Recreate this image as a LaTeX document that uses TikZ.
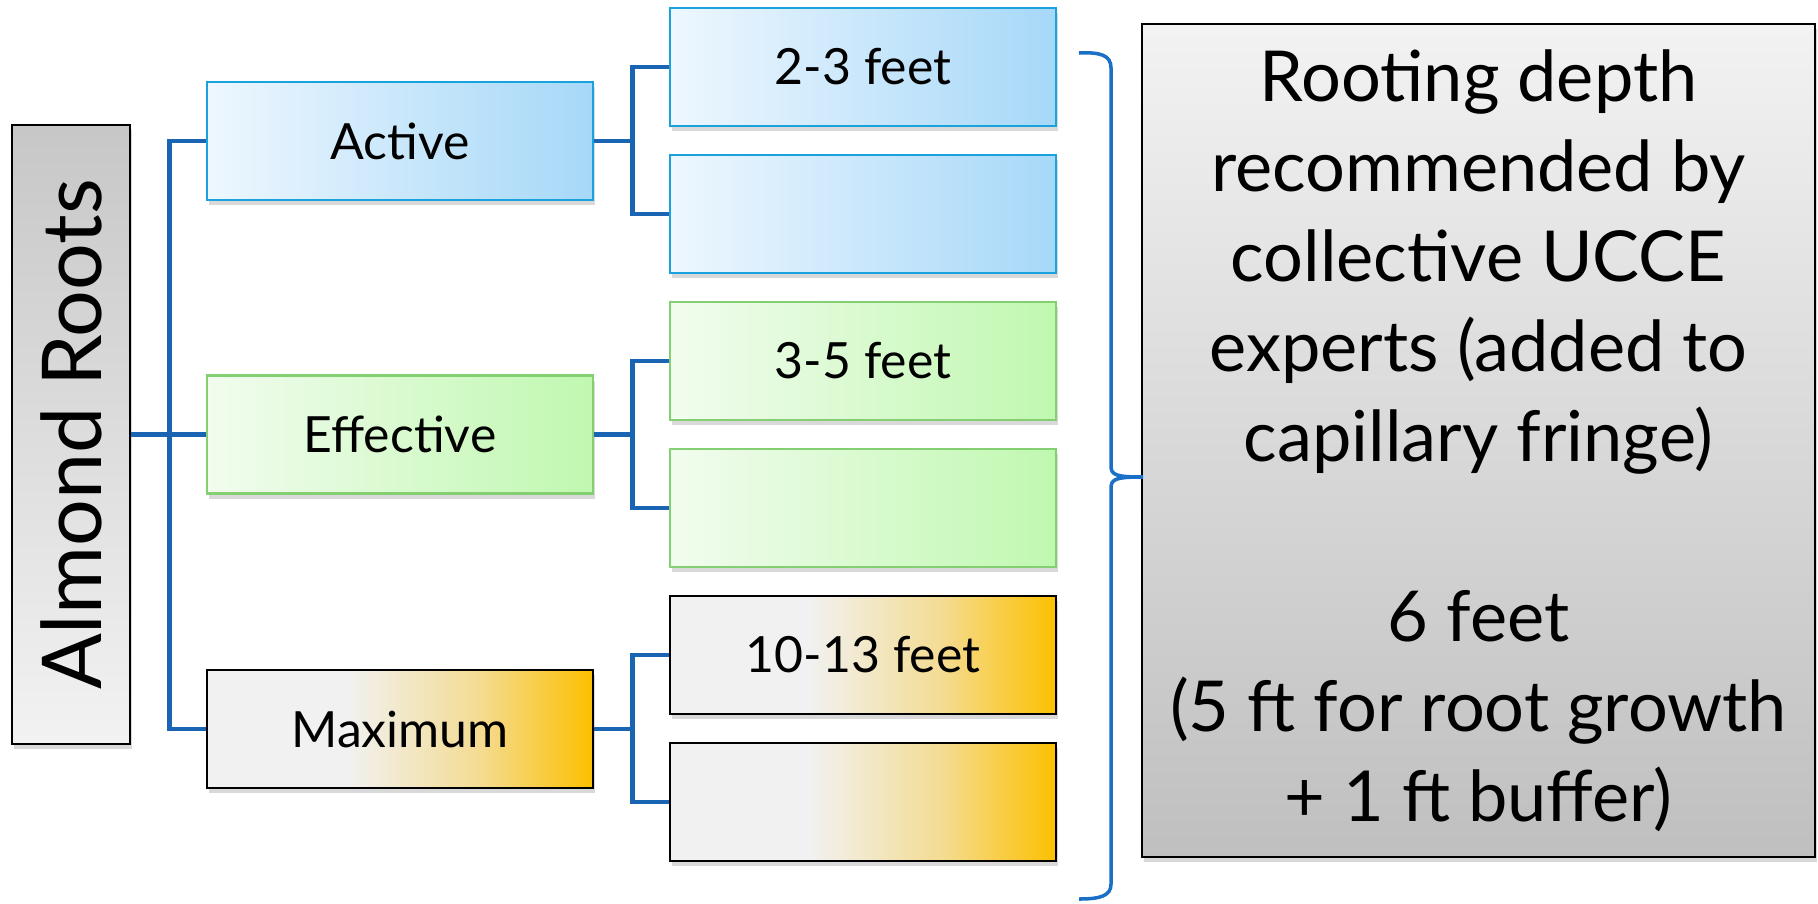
\documentclass[tikz,border=0pt]{standalone}
\usepackage{fontspec}
\setmainfont{Lato}
\usetikzlibrary{shadows}
\definecolor{linkblue}{HTML}{1A64B4}
\definecolor{bracecol}{HTML}{1A6FC6}
\definecolor{actedge}{HTML}{1AA2DC}
\definecolor{actl}{HTML}{EEF7FE}
\definecolor{actr}{HTML}{A6D8F8}
\definecolor{effedge}{HTML}{84CF72}
\definecolor{effl}{HTML}{F2FCEF}
\definecolor{effr}{HTML}{C0F8B0}
\definecolor{maxl}{HTML}{F1F1F1}
\definecolor{maxm}{HTML}{F4DC94}
\definecolor{maxr}{HTML}{FCC000}
\pgfdeclarehorizontalshading{maxshade}{100bp}{color(0bp)=(maxl); color(25bp)=(maxl); color(43bp)=(maxl); color(60bp)=(maxm); color(75bp)=(maxr); color(100bp)=(maxr)}
\begin{document}
\begin{tikzpicture}[x=0.1mm,y=-0.1mm,
	box/.style={line width=0.6pt,minimum width=38.6mm,minimum height=11.8mm,inner sep=0pt,
		drop shadow={shadow xshift=0.15mm,shadow yshift=-0.5mm,opacity=.3},font=\fontsize{14.2}{17}\selectfont},
	actbox/.style={box,draw=actedge,left color=actl,right color=actr},
	effbox/.style={box,draw=effedge,left color=effl,right color=effr},
	maxbox/.style={box,draw=black,shading=maxshade},
	link/.style={draw=linkblue,line width=1.3pt},
	]
	\useasboundingbox (0,0) rectangle (1818,903);

	\node[draw=black,line width=0.6pt,minimum width=11.8mm,minimum height=61.9mm,inner sep=0pt,
		top color=black!22,bottom color=black!5,drop shadow={shadow xshift=0.15mm,shadow yshift=-0.5mm,opacity=.3},
		font=\fontsize{23.5}{28}\selectfont] (root) at (71,434.5) {\rotatebox{90}{Almond Roots}};

	\node[actbox] (act) at (400,141) {Active};
	\node[effbox] (eff) at (400,434.5) {Effective};
	\node[maxbox] (max) at (400,729) {Maximum};

	\node[actbox] (act1) at (863,67) {2-3 feet};
	\node[actbox] (act2) at (863,214) {};
	\node[effbox] (eff1) at (863,361) {3-5 feet};
	\node[effbox] (eff2) at (863,508) {};
	\node[maxbox] (max1) at (863,655) {10-13 feet};
	\node[maxbox] (max2) at (863,802) {};

	\node[draw=black,line width=0.6pt,minimum width=67.3mm,minimum height=83.3mm,inner sep=0pt,
		top color=black!5,bottom color=black!25,drop shadow={shadow xshift=0.15mm,shadow yshift=-0.5mm,opacity=.3},
		align=center,font=\fontsize{20}{25.6}\selectfont] (big) at (1478.5,440.5)
		{Rooting depth\\recommended by\\collective UCCE\\experts (added to\\capillary fringe)\\[25.6pt]6 feet\\(5 ft for root growth\\+ 1 ft buffer)};

	\draw[link] (root.east) -- ++(38.5,0) |- (act.west);
	\draw[link] (root.east) -- (eff.west);
	\draw[link] (root.east) -- ++(38.5,0) |- (max.west);

	\draw[link] (act.east) -- ++(38.5,0) |- (act1.west);
	\draw[link] (act.east) -- ++(38.5,0) |- (act2.west);
	\draw[link] (eff.east) -- ++(38.5,0) |- (eff1.west);
	\draw[link] (eff.east) -- ++(38.5,0) |- (eff2.west);
	\draw[link] (max.east) -- ++(38.5,0) |- (max1.west);
	\draw[link] (max.east) -- ++(38.5,0) |- (max2.west);

	\coordinate (btop) at (1079,53);
	\coordinate (btip) at (1143,477);
	\coordinate (bbot) at (1079,899);
	\draw[bracecol,line width=1pt] (btop) .. controls (1100,52) and (1111,55) .. (1111,68) -- (1111,466)
		.. controls (1111,475) and (1116,477) .. (btip)
		.. controls (1116,477) and (1111,479) .. (1111,488) -- (1111,884)
		.. controls (1111,896) and (1100,899) .. (bbot);
\end{tikzpicture}
\end{document}
